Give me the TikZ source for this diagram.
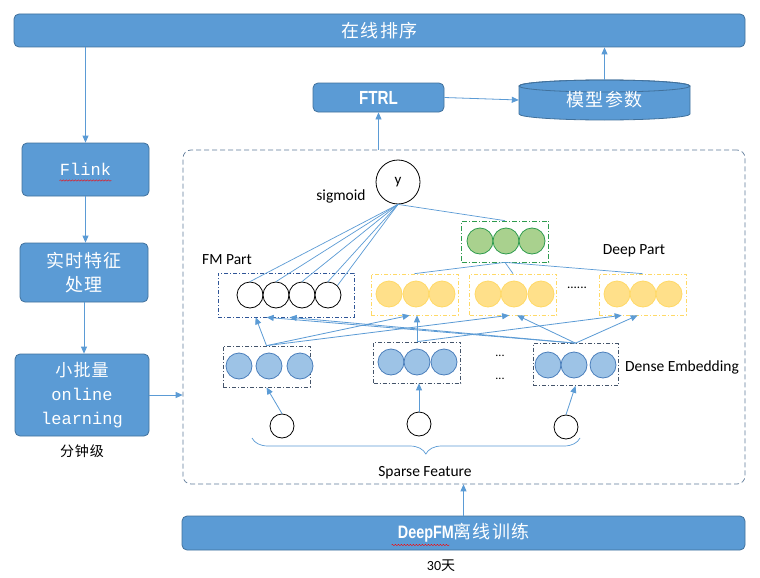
\documentclass[tikz,border=0pt]{standalone}
\usepackage{fontspec}
\setmainfont{Carlito}
\newfontfamily\cjk{Noto Sans CJK SC}[LetterSpace=6]
\newfontfamily\mono{Liberation Mono}
\newfontfamily\narrow{Liberation Sans}[FakeStretch=0.8]
\usepackage{tikz}
\usetikzlibrary{arrows.meta, calc}
\usetikzlibrary{decorations.pathreplacing, decorations.pathmorphing}
\usepackage{xcolor}

\definecolor{barblue}{HTML}{5B9BD5}
\definecolor{barline}{HTML}{41719C}
\definecolor{linkblue}{HTML}{5B9BD5}
\definecolor{framegray}{HTML}{5E7A99}
\definecolor{fmblue}{HTML}{2F5597}
\definecolor{densegray}{HTML}{44546A}
\definecolor{densefill}{HTML}{9DC3E6}
\definecolor{denseline}{HTML}{4A7EBB}
\definecolor{deepgreen}{HTML}{2E9B4E}
\definecolor{greenfill}{HTML}{A9D18E}
\definecolor{hidyellow}{HTML}{FFD966}
\definecolor{yellowfill}{HTML}{FFE08A}

\begin{document}
\begin{tikzpicture}[x=1pt, y=-1pt,
		bar/.style={draw=barline, fill=barblue, rounded corners=5pt, text=white, inner sep=0pt, line width=0.8pt},
		cn/.style={font=\cjk\fontsize{18pt}{24pt}\selectfont},
		lab/.style={font=\fontsize{15.5pt}{18pt}\selectfont, inner sep=0pt},
		link/.style={linkblue, line width=0.8pt, -{Triangle[length=7pt,width=6pt]}},
		wire/.style={linkblue, line width=0.7pt},
		dashdot/.style={dash pattern=on 4pt off 2pt on 1pt off 2pt, line width=0.7pt},
		layer/.style={dashdot, inner sep=0pt, minimum height=41pt, minimum width=87pt},
		unit/.style={circle, inner sep=0pt, minimum size=26pt, line width=0.8pt}]
		\fill[white] (0,0) rectangle (760,578);
		\useasboundingbox (0,0) rectangle (760,578);

		% left column
		\node[bar, cn, minimum width=731pt, minimum height=33pt] (top) at (379.5,30.5) {在线排序};
		\node[bar, minimum width=127pt, minimum height=53pt, font=\mono\fontsize{17pt}{20pt}\selectfont] (flink) at (85.5,169.5) {Flink};
		\node[bar, cn, align=center, minimum width=128pt, minimum height=59pt] (feat) at (84,272.5) {实时特征\\处理};
		\node[bar, align=center, minimum width=134pt, minimum height=82pt, font=\fontsize{17pt}{24pt}\selectfont] (batch) at (82,395) {{\cjk 小批量}\\{\mono online}\\{\mono learning}};
		\node[font=\cjk\fontsize{14pt}{16pt}\selectfont] (minute) at (82,451) {分钟级};
		\draw[red, decorate, decoration={snake, amplitude=0.7pt, segment length=3pt}]
			([xshift=-26pt,yshift=-11pt]flink.center) -- ([xshift=26pt,yshift=-11pt]flink.center);

		\draw[link] (top.south -| flink.north) -- (flink.north);
		\draw[link] (flink.south) -- (flink.south |- feat.north);
		\draw[link] (feat.south) -- (feat.south |- batch.north);

		% top right
		\node[bar, minimum width=131pt, minimum height=29pt, font=\narrow\bfseries\fontsize{19pt}{22pt}\selectfont] (ftrl) at (378.5,97.5) {FTRL};
		\fill[barblue, draw=barline, line width=0.8pt] (519,86) -- (519,114)
			arc[start angle=180, end angle=360, x radius=85.5pt, y radius=6pt] -- (690,86)
			arc[start angle=0, end angle=180, x radius=85.5pt, y radius=6pt] -- cycle;
		\draw[barline, line width=0.8pt] (604.5,86) ellipse[x radius=85.5pt, y radius=6pt];
		\node[cn, text=white, minimum width=171pt, minimum height=40pt, inner sep=0pt] (param) at (604.5,100) {模型参数};

		\draw[link] (ftrl.east) -- (param.west);
		\draw[link] (param.north) -- (param.north |- top.south);

		% model frame
		\node[draw=framegray, dash pattern=on 5pt off 3pt, line width=0.7pt, rounded corners=8pt,
			minimum width=562pt, minimum height=334pt, inner sep=0pt] (frame) at (464,317) {};
		\draw[link] (batch.east) -- (batch.east -| frame.west);
		\draw[link] (ftrl.south |- frame.north) -- (ftrl.south);

		% bottom
		\node[bar, minimum width=563pt, minimum height=34pt, font=\fontsize{18pt}{22pt}\selectfont] (offline) at (463.5,533)
			{{\narrow\bfseries DeepFM}{\cjk 离线训练}};
		\node[font=\fontsize{14pt}{16pt}\selectfont] (days) at (441,566) {30{\cjk 天}};
		\draw[red, decorate, decoration={snake, amplitude=0.7pt, segment length=3pt}]
			([xshift=-72pt,yshift=-12pt]offline.center) -- ([xshift=-14pt,yshift=-12pt]offline.center);
		\draw[link] (offline.north) -- (offline.north |- frame.south);

		% output
		\node[circle, draw, line width=0.8pt, minimum size=44pt, inner sep=0pt, font=\fontsize{15pt}{17pt}\selectfont] (out) at (398,182) {y};
		\node[lab] (sig) at (341,196) {sigmoid};

		% FM part
		\node[lab] (fmlab) at (227,260) {FM Part};
		\node[layer, draw=fmblue, minimum width=136pt, minimum height=44pt] (fm) at (286,295) {};
		\foreach \x [count=\i] in {250,276,302,328}
			\node[unit, draw=black, fill=white] (c\i) at (\x,295) {};
		\foreach \t in {c1.north, c2.north, c3.north, c4.north, c4.north east}
			\draw[wire] (out.south) -- (\t);

		% deep part
		\node[layer, draw=deepgreen, dash pattern=on 5pt off 2pt on 1pt off 2pt] (deep) at (505,241.5) {};
		\foreach \x in {480,506,532}
			\node[unit, draw=deepgreen, fill=greenfill] at (\x,241) {};
		\node[lab] (deeplab) at (634,251) {Deep Part};
		\node[layer, draw=hidyellow] (y1) at (414.5,294.5) {};
		\node[layer, draw=hidyellow] (y2) at (513,294.5) {};
		\node[layer, draw=hidyellow] (y4) at (642.5,294.5) {};
		\foreach \x in {389,416,442,488,514,541,617,643,669}
			\node[unit, draw=hidyellow, fill=yellowfill] at (\x,294) {};
		\node[font=\fontsize{13pt}{15pt}\selectfont] (hdots) at (577,288) {......};
		\draw[wire] (out.south) -- (deep.north);
		\foreach \t in {y1, y2, y4}
			\draw[wire] (deep.south) -- (\t.north);

		% dense embedding
		\node[layer, draw=densegray] (d1) at (266.5,366.5) {};
		\node[layer, draw=densegray] (d2) at (417,362.5) {};
		\node[layer, draw=densegray, minimum width=85pt, minimum height=42pt] (d3) at (575.5,364.5) {};
		\foreach \x in {239,269,300}
			\node[unit, draw=denseline, fill=densefill] at (\x,366) {};
		\foreach \x in {391,417,444}
			\node[unit, draw=denseline, fill=densefill] at (\x,362) {};
		\foreach \x in {548,574,603}
			\node[unit, draw=denseline, fill=densefill] at (\x,365) {};
		\node[font=\fontsize{12pt}{14pt}\selectfont] (vdots1) at (500,356) {...};
		\node[font=\fontsize{12pt}{14pt}\selectfont] (vdots2) at (500,379) {...};
		\node[lab] (denselab) at (682,367) {Dense Embedding};

		\draw[link] (d1.north) -- ([xshift=38pt]fm.south west);
		\draw[link] (d1.north) -- ([xshift=39pt]y1.south west);
		\draw[link] (d1.north) -- ([xshift=40pt]y2.south west);
		\draw[link] (d2.north) -- (d2.north |- y1.south);
		\draw[link] (d2.north) -- ([xshift=23pt]y4.south west);
		\draw[link] (d3.north) -- ([xshift=49pt]fm.south west);
		\draw[link] (d3.north) -- ([xshift=72pt]fm.south west);
		\draw[link] (d3.north) -- ([xshift=48pt]y2.south west);
		\draw[link] (d3.north) -- ([xshift=39pt]y4.south west);

		% sparse feature
		\node[circle, draw, line width=0.8pt, minimum size=24pt, inner sep=0pt] (s1) at (282,426) {};
		\node[circle, draw, line width=0.8pt, minimum size=24pt, inner sep=0pt] (s2) at (419,424) {};
		\node[circle, draw, line width=0.8pt, minimum size=24pt, inner sep=0pt] (s3) at (566,427) {};
		\draw[link] (s1.north) -- (d1.south);
		\draw[link] (s2.north) -- (s2.north |- d2.south);
		\draw[link] (s3.north) -- (d3.south);
		\draw[wire, decorate, decoration={brace, mirror, amplitude=16pt, aspect=0.53}] (252,438) -- (580,438);
		\node[lab] (sparselab) at (425,473) {Sparse Feature};
	\end{tikzpicture}
\end{document}
